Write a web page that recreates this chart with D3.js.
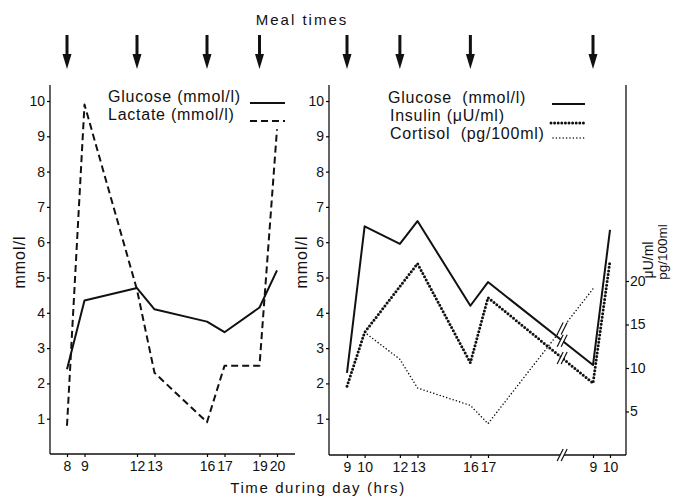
<!DOCTYPE html>
<html>
<head>
<meta charset="utf-8">
<script src="https://cdn.jsdelivr.net/npm/d3@7"></script>
<style>
body { margin: 0; background: #fff; }
svg text { font-family: "Liberation Sans", Arial, sans-serif; fill: #111; }
</style>
</head>
<body>
<div id="chart"></div>
<script>
// left panel: glucose and lactate during one day
const leftHours = [8, 9, 12, 13, 16, 17, 19, 20];
const leftGlucose = [2.4, 4.35, 4.7, 4.1, 3.75, 3.45, 4.15, 5.2];
const leftLactate = [0.8, 9.9, 4.65, 2.3, 0.9, 2.5, 2.5, 9.2];
const leftMeals = [8, 12, 16, 19];
const leftTicks = [8, 9, 12, 13, 16, 17, 19, 20];

// right panel: hours counted on from day one, 33 = 9 h next day
const rightHours = [9, 10, 12, 13, 16, 17, 33, 34];
const rightGlucose = [2.3, 6.45, 5.95, 6.6, 4.2, 4.87, 2.52, 6.35];
const insulinHours = [9, 10, 13, 16, 17, 33, 34];
const insulin = [7.9, 14.1, 22, 10.6, 18.1, 8.25, 22.3];
const cortisolHours = [10, 12, 13, 16, 17, 33];
const cortisol = [14.1, 11, 7.7, 5.7, 3.6, 19.1];
const rightMeals = [9, 12, 16, 33];
const rightTicks = [9, 10, 12, 13, 16, 17, 33, 34];
const rightTickLabels = ["9", "10", "12", "13", "16", "17", "9", "10"];
const breakHour = 28.3;

const mmolTicks = [1, 2, 3, 4, 5, 6, 7, 8, 9, 10];
const hormoneTicks = [5, 10, 15, 20];

function create_chart() {
    let width = 679;
    let height = 502;

    const svg = d3.select("#chart").append("svg")
        .attr("width", width)
        .attr("height", height);

    svg.append("rect").attr("width", width).attr("height", height).attr("fill", "#fff");

    const x1 = d3.scaleLinear().domain([8, 20]).range([67, 277]);
    const x2 = d3.scaleLinear().domain([9, 17, 33, 34]).range([347, 488, 593, 610]);
    const yMmol = d3.scaleLinear().domain([0, 10]).range([454, 101]);
    const yHorm = d3.scaleLinear().domain([0, 20]).range([455, 281]);

    let left0 = 50, left1 = 295, right0 = 329, right1 = 626;
    let axisTop = 85, base = 454;

    // axis frames
    const frame = svg.append("g").attr("stroke", "#111").attr("stroke-width", 1.3);
    frame.append("line").attr("x1", left0).attr("x2", left0).attr("y1", axisTop).attr("y2", base);
    frame.append("line").attr("x1", left0).attr("x2", left1).attr("y1", base).attr("y2", base);
    frame.append("line").attr("x1", right0).attr("x2", right0).attr("y1", axisTop).attr("y2", base + 1);
    frame.append("line").attr("x1", right0).attr("x2", right1).attr("y1", base + 1).attr("y2", base + 1);
    frame.append("line").attr("x1", right1).attr("x2", right1).attr("y1", axisTop).attr("y2", base + 1);

    function styleAxis(g, size) {
        g.select(".domain").remove();
        g.attr("font-size", size);
        g.selectAll(".tick line").attr("stroke-width", 1.2);
    }

    svg.append("g")
        .attr("transform", `translate(${left0},0)`)
        .call(d3.axisLeft(yMmol).tickValues(mmolTicks).tickSize(3).tickPadding(2))
        .call(g => styleAxis(g, 14));

    svg.append("g")
        .attr("transform", `translate(${right0},0)`)
        .call(d3.axisLeft(yMmol).tickValues(mmolTicks).tickSize(3).tickPadding(2))
        .call(g => styleAxis(g, 14));

    svg.append("g")
        .attr("transform", `translate(${right1},0)`)
        .call(d3.axisRight(yHorm).tickValues(hormoneTicks).tickSize(3).tickPadding(1))
        .call(g => styleAxis(g, 14));

    svg.append("g")
        .attr("transform", `translate(0,${base})`)
        .call(d3.axisBottom(x1).tickValues(leftTicks).tickSize(3).tickPadding(4))
        .call(g => styleAxis(g, 14));

    svg.append("g")
        .attr("transform", `translate(0,${base + 1})`)
        .call(d3.axisBottom(x2).tickValues(rightTicks).tickSize(3).tickPadding(4)
            .tickFormat((d, i) => rightTickLabels[i]))
        .call(g => styleAxis(g, 14));

    // series
    const lineOf = (x, y) => d3.line().x(d => x(d[0])).y(d => y(d[1]));

    const series = [
        {hours: leftHours, values: leftGlucose, x: x1, y: yMmol, width: 2, dash: null},
        {hours: leftHours, values: leftLactate, x: x1, y: yMmol, width: 2, dash: "7 4"},
        {hours: rightHours, values: rightGlucose, x: x2, y: yMmol, width: 2, dash: null},
        {hours: insulinHours, values: insulin, x: x2, y: yHorm, width: 3, dash: "0 3.6"},
        {hours: cortisolHours, values: cortisol, x: x2, y: yHorm, width: 1.6, dash: "0 3.4"}
    ];

    series.forEach(s => {
        svg.append("path")
            .datum(d3.zip(s.hours, s.values))
            .attr("d", lineOf(s.x, s.y))
            .attr("fill", "none")
            .attr("stroke", "#111")
            .attr("stroke-width", s.width)
            .attr("stroke-linejoin", "round")
            .attr("stroke-linecap", s.dash && s.dash.startsWith("0") ? "round" : "butt")
            .attr("stroke-dasharray", s.dash);
    });

    // break marks "//" where the night is left out
    function breakMark(x, y) {
        const g = svg.append("g").attr("transform", `translate(${x},${y})`);
        g.append("line").attr("x1", -3).attr("y1", 6).attr("x2", 3).attr("y2", -6)
            .attr("stroke", "#fff").attr("stroke-width", 3);
        [-2, 2].forEach(dx => {
            g.append("line")
                .attr("x1", dx - 3).attr("y1", 6).attr("x2", dx + 3).attr("y2", -6)
                .attr("stroke", "#111").attr("stroke-width", 1.2);
        });
    }
    let bx = x2(breakHour);
    series.slice(2).forEach(s => {
        let yv = d3.scaleLinear().domain([17, 33]).range([
            s.values[s.hours.indexOf(17)], s.values[s.hours.indexOf(33)]
        ])(breakHour);
        breakMark(bx, s.y(yv));
    });
    breakMark(bx, base + 1);

    // meal arrows
    function arrow(x) {
        svg.append("rect").attr("x", x - 1.5).attr("y", 35).attr("width", 3).attr("height", 21).attr("fill", "#111");
        svg.append("path")
            .attr("d", `M${x - 4.5},54L${x + 4.5},54L${x},69Z`)
            .attr("fill", "#111");
    }
    leftMeals.forEach(h => arrow(x1(h)));
    rightMeals.forEach(h => arrow(x2(h)));

    svg.append("text").attr("x", 302).attr("y", 25)
        .attr("text-anchor", "middle").attr("font-size", 15).attr("letter-spacing", 2)
        .text("Meal times");

    svg.append("text").attr("x", 318).attr("y", 493)
        .attr("text-anchor", "middle").attr("font-size", 15).attr("letter-spacing", 1.6)
        .text("Time during day (hrs)");

    // axis titles
    const vtext = (x, y, txt, size) => svg.append("text")
        .attr("transform", `translate(${x},${y}) rotate(-90)`)
        .attr("text-anchor", "middle").attr("font-size", size).attr("letter-spacing", 1)
        .text(txt);
    vtext(25, 262, "mmol/l", 16);
    vtext(307, 262, "mmol/l", 16);
    vtext(653, 260, "μU/ml", 14).attr("letter-spacing", 0);
    vtext(667, 252, "pg/100ml", 13.5).attr("letter-spacing", 0);

    // legends
    const legText = (x, y, txt) => svg.append("text")
        .attr("x", x).attr("y", y).attr("font-size", 16).attr("letter-spacing", 0.75)
        .style("white-space", "pre").text(txt);
    const legLine = (xa, xb, y, w, dash) => svg.append("line")
        .attr("x1", xa).attr("x2", xb).attr("y1", y).attr("y2", y)
        .attr("stroke", "#111").attr("stroke-width", w)
        .attr("stroke-linecap", dash && dash.startsWith("0") ? "round" : "butt")
        .attr("stroke-dasharray", dash);

    legText(108, 102, "Glucose (mmol/l)");
    legText(108, 120, "Lactate (mmol/l)");
    legLine(250, 285, 103, 2, null);
    legLine(250, 285, 121, 2, "7 4");

    legText(388, 103, "Glucose  (mmol/l)");
    legText(390, 121, "Insulin (μU/ml)");
    legText(390, 139, "Cortisol  (pg/100ml)");
    legLine(552, 585, 104, 2, null);
    legLine(551, 585, 123, 3, "0 3.6");
    legLine(553, 585, 138, 1.6, "0 3.4");

    return svg.node();
}

create_chart();
</script>
</body>
</html>
